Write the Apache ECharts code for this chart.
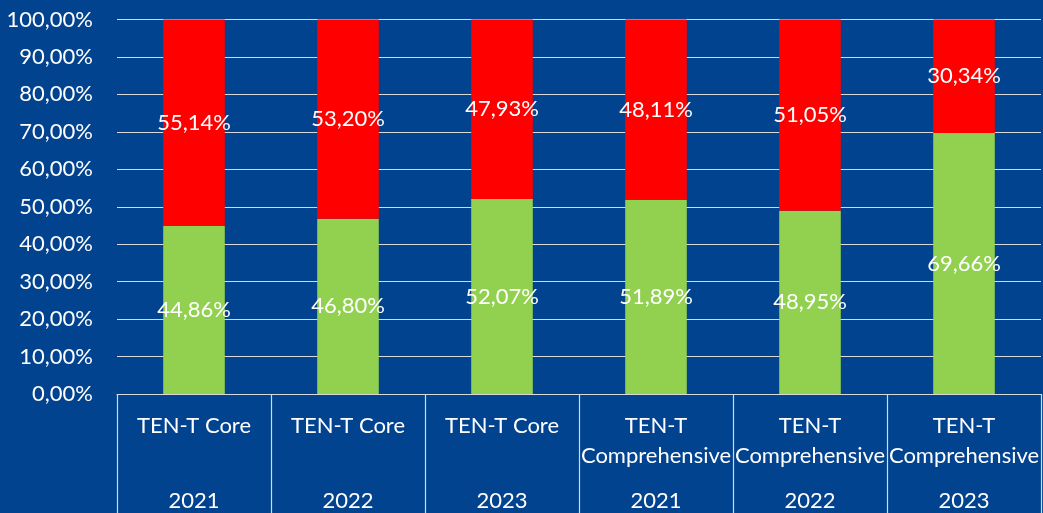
<!DOCTYPE html>
<html><head><meta charset="utf-8">
<script src="https://cdn.jsdelivr.net/npm/echarts@6/dist/echarts.min.js"></script>
<style>html,body{margin:0;padding:0;background:#01438F;}#c{width:1043px;height:513px;}</style>
</head><body><div id="c"></div>
<script>
const groups = ['TEN-T Core','TEN-T Core','TEN-T Core','TEN-T\nComprehensive','TEN-T\nComprehensive','TEN-T\nComprehensive'];
const years = ['2021','2022','2023','2021','2022','2023'];
const greenValues = [44.86, 46.80, 52.07, 51.89, 48.95, 69.66];
const redValues = [55.14, 53.20, 47.93, 48.11, 51.05, 30.34];
const yTicks = [0,10,20,30,40,50,60,70,80,90,100];

const FONT = 'Lato';
const FS = 22;
const fmt = v => v.toFixed(2).replace('.', ',') + '%';
const categories = groups.map((g, i) => g + '|' + years[i]);

const chart = echarts.init(document.getElementById('c'));
chart.setOption({
  backgroundColor: '#01438F',
  animation: false,
  grid: {left: 117, right: 2, top: 19.5, bottom: 119},
  xAxis: {
    type: 'category',
    data: categories,
    axisLine: {lineStyle: {color: '#d9d9d9', width: 1.2}},
    axisTick: {show: true, interval: 0, length: 125, lineStyle: {color: '#d9d9d9', width: 1.2}},
    axisLabel: {
      interval: 0, margin: 17,
      formatter: v => {
        const [g, y] = v.split('|');
        const gl = g.split('\n');
        let s = gl.map(t => '{n|' + t + '}').join('\n');
        if (gl.length === 1) s += '\n{n| }';
        return s + '\n{y|' + y + '}';
      },
      rich: {
        n: {color: '#fff', fontFamily: FONT, fontSize: FS, lineHeight: 30, align: 'center'},
        y: {color: '#fff', fontFamily: FONT, fontSize: FS, lineHeight: 60, align: 'center'}
      }
    }
  },
  yAxis: {
    type: 'value', min: 0, max: 100, interval: 10,
    axisLine: {show: false}, axisTick: {show: false},
    splitLine: {lineStyle: {color: '#d9d9d9', width: 1.2}},
    axisLabel: {color: '#fff', fontFamily: FONT, fontSize: FS, margin: 24,
      formatter: v => yTicks.includes(v) ? fmt(v) : ''}
  },
  series: [
    {type: 'bar', stack: 's', data: greenValues, barWidth: '40%',
     itemStyle: {color: '#92D050'},
     label: {show: true, position: 'inside', color: '#fff', fontFamily: FONT, fontSize: FS, formatter: p => fmt(p.value)}},
    {type: 'bar', stack: 's', data: redValues, barWidth: '40%',
     itemStyle: {color: '#FF0000'},
     label: {show: true, position: 'inside', color: '#fff', fontFamily: FONT, fontSize: FS, formatter: p => fmt(p.value)}}
  ]
});
</script></body></html>
